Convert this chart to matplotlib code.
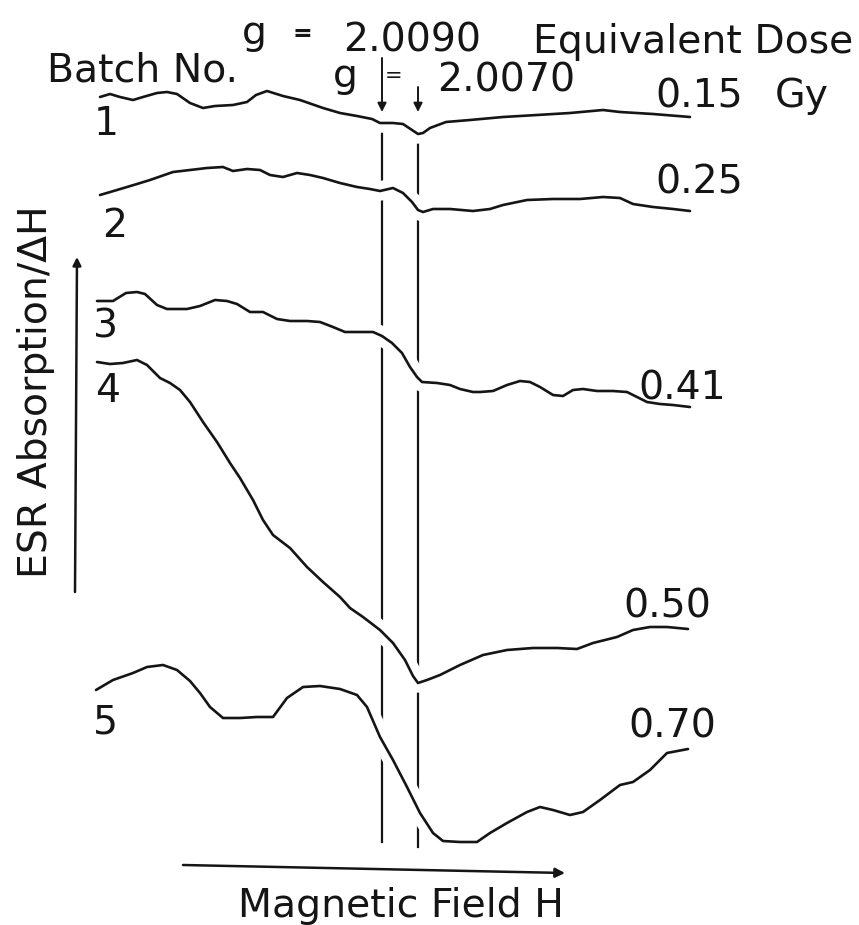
import matplotlib
matplotlib.use("Agg")
import matplotlib.pyplot as plt
import matplotlib.patheffects as pe

# ---------------- data (x = field position, y = signal position) -------------
batch_1_x = [100, 110, 120, 133, 143, 150, 157, 167, 177, 190, 203, 215, 233, 247, 256, 267, 283, 300,
             323, 340, 357, 372, 380, 393, 403, 412, 418, 423, 430, 446, 470, 503, 537, 570, 603, 620, 653, 690]
batch_1_y = [97, 94, 97, 100, 97, 95, 93, 92, 94, 103, 108, 106, 105, 102, 95, 91, 96, 100,
             108, 113, 116, 119, 123, 123, 124, 130, 134, 133, 128, 122, 120, 117, 115, 113, 110, 112, 114, 117]

batch_2_x = [100, 117, 137, 150, 173, 190, 207, 223, 233, 247, 260, 270, 283, 297, 310, 323, 340, 357,
             370, 380, 393, 403, 412, 418, 423, 433, 450, 473, 490, 503, 527, 553, 580, 603, 620, 633, 653, 673, 690]
batch_2_y = [195, 190, 184, 180, 172, 170, 168, 167, 171, 169, 170, 175, 177, 173, 175, 178, 183, 187,
             189, 191, 188, 193, 202, 210, 212, 209, 209, 211, 209, 205, 200, 199, 199, 197, 198, 204, 207, 209, 211]

batch_3_x = [97, 113, 126, 137, 145, 157, 167, 187, 200, 215, 227, 237, 250, 263, 277, 290, 307, 320, 333,
             345, 357, 373, 382, 392, 402, 410, 417, 422, 437, 450, 460, 473, 480, 493, 507, 520, 530,
             540, 553, 563, 573, 583, 597, 613, 627, 637, 647, 660, 673, 690]
batch_3_y = [301, 301, 293, 292, 294, 305, 309, 309, 306, 300, 301, 304, 312, 312, 319, 321, 321, 322, 327,
             332, 332, 332, 336, 343, 353, 367, 377, 382, 383, 385, 389, 392, 392, 391, 385, 381, 382,
             387, 395, 396, 390, 389, 391, 391, 392, 397, 402, 404, 405, 407]

batch_4_x = [97, 110, 123, 137, 147, 160, 170, 180, 190, 203, 217, 230, 240, 253, 263, 273, 290, 307, 323,
             340, 350, 363, 380, 393, 405, 413, 418, 427, 440, 460, 483, 507, 533, 557, 577, 593, 617,
             633, 650, 667, 688]
batch_4_y = [362, 364, 363, 360, 365, 378, 383, 390, 402, 422, 442, 463, 478, 500, 520, 535, 548, 567, 582,
             597, 608, 617, 630, 643, 660, 676, 683, 680, 675, 665, 655, 650, 648, 648, 649, 643, 637,
             630, 627, 627, 629]

batch_5_x = [96, 113, 133, 147, 163, 177, 190, 200, 210, 223, 240, 257, 273, 287, 303, 320, 340, 357,
             367, 380, 393, 407, 420, 433, 443, 460, 477, 490, 507, 527, 540, 553, 570, 583, 600, 620,
             633, 650, 667, 688]
batch_5_y = [690, 680, 673, 667, 665, 670, 681, 693, 707, 718, 718, 717, 717, 698, 687, 686, 689, 695,
             707, 737, 760, 787, 813, 833, 841, 842, 842, 833, 823, 812, 807, 810, 815, 812, 800, 785,
             782, 770, 753, 749]

batch_numbers = ["1", "2", "3", "4", "5"]
equivalent_doses = ["0.15", "0.25", "0.41", "0.50", "0.70"]
g_values = ["2.0090", "2.0070"]
g_line_positions = [382, 418]

# ---------------- figure ----------------
W, H = 859, 925
fig = plt.figure(figsize=(W / 100, H / 100), dpi=100)
ax = fig.add_axes([0, 0, 1, 1])
ax.set_xlim(0, W)
ax.set_ylim(H, 0)
ax.axis("off")

ink = "#151515"
font = "DejaVu Sans"
fs = 28.4

# vertical g-value lines (broken by the white halos of the curves)
line_tops = [125, 125]
line_bottoms = [842, 847]
for xg, yt, yb in zip(g_line_positions, line_tops, line_bottoms):
    ax.plot([xg, xg], [yt, yb], color=ink, lw=1.6, zorder=1)

# g-value arrows
arrow_starts = [58, 87]
arrow_ends = [112, 112]
for xg, y0, y1 in zip(g_line_positions, arrow_starts, arrow_ends):
    ax.annotate("", xy=(xg, y1), xytext=(xg, y0),
                arrowprops=dict(arrowstyle="-|>", color=ink, lw=1.4, mutation_scale=13,
                                shrinkA=0, shrinkB=0), zorder=1)

# spectra
halo = [pe.Stroke(linewidth=14, foreground="white"), pe.Normal()]
curves = [(batch_1_x, batch_1_y), (batch_2_x, batch_2_y), (batch_3_x, batch_3_y),
          (batch_4_x, batch_4_y), (batch_5_x, batch_5_y)]
for cx, cy in curves:
    ax.plot(cx, cy, color=ink, lw=1.9, solid_joinstyle="round", solid_capstyle="round",
            path_effects=halo, zorder=3)

# batch numbers
batch_label_pos = [(106, 135), (115, 237), (106, 338), (108, 402), (106, 733)]
for lab, (lx, ly) in zip(batch_numbers, batch_label_pos):
    ax.text(lx, ly, lab, fontsize=fs, family=font, color=ink, ha="center", va="baseline", zorder=5)

# dose labels
dose_label_pos = [(655, 107), (655, 193), (638, 400), (623, 617), (628, 738)]
for lab, (lx, ly) in zip(equivalent_doses, dose_label_pos):
    ax.text(lx, ly, lab, fontsize=fs, family=font, color=ink, ha="left", va="baseline", zorder=5)
ax.text(775, 107, "Gy", fontsize=fs, family=font, color=ink, ha="left", va="baseline", zorder=5)

# header texts
ax.text(47, 82, "Batch No.", fontsize=fs, family=font, color=ink, ha="left", va="baseline", zorder=5)
ax.text(533, 53, "Equivalent Dose", fontsize=fs, family=font, color=ink, ha="left", va="baseline", zorder=5)
ax.text(242, 44, "g", fontsize=fs, family=font, color=ink, ha="left", va="baseline", zorder=5)
ax.text(302, 34, "=", fontsize=17, family=font, color=ink, ha="center", va="center",
        fontweight="bold", zorder=5)
ax.text(343, 52, g_values[0], fontsize=fs, family=font, color=ink, ha="left", va="baseline", zorder=5)
ax.text(333, 87, "g", fontsize=fs, family=font, color=ink, ha="left", va="baseline", zorder=5)
ax.text(394, 76, "=", fontsize=15, family=font, color=ink, ha="center", va="center", zorder=5)
ax.text(437, 92, g_values[1], fontsize=fs, family=font, color=ink, ha="left", va="baseline", zorder=5)

# axis arrows
ax.annotate("", xy=(565, 873), xytext=(183, 865),
            arrowprops=dict(arrowstyle="-|>", color=ink, lw=1.8, mutation_scale=14,
                            shrinkA=0, shrinkB=0), zorder=2)
ax.annotate("", xy=(77, 257), xytext=(75, 592),
            arrowprops=dict(arrowstyle="-|>", color=ink, lw=1.8, mutation_scale=12,
                            shrinkA=0, shrinkB=0), zorder=2)

ax.text(238, 917, "Magnetic Field H", fontsize=fs, family=font, color=ink, ha="left", va="baseline", zorder=5)
ax.text(47, 578, "ESR Absorption/\u0394H", fontsize=fs, family=font, color=ink, rotation=90,
        rotation_mode="anchor", ha="left", va="baseline", zorder=5)

fig.savefig("out.png", dpi=100, facecolor="white")
